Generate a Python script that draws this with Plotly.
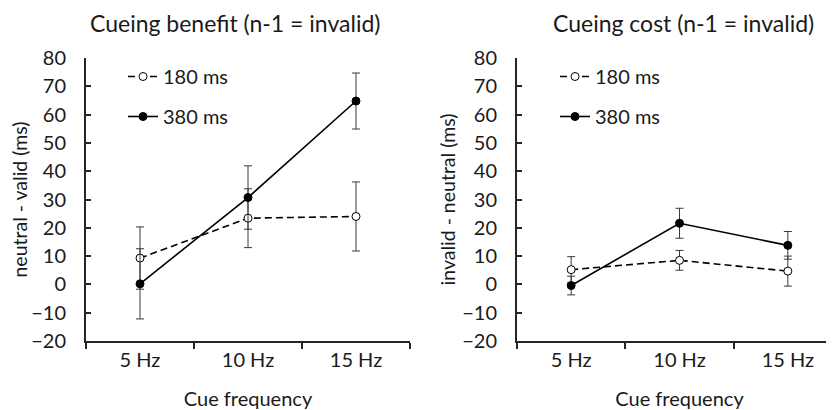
import plotly.graph_objects as go

categories = ["5 Hz", "10 Hz", "15 Hz"]
series_names = ["180 ms", "380 ms"]

# Left panel: Cueing benefit (neutral - valid)
benefit_180 = [9.3, 23.4, 24.0]
benefit_180_err = [11.0, 10.4, 12.2]
benefit_380 = [0.2, 30.7, 64.8]
benefit_380_err = [12.4, 11.2, 9.9]

# Right panel: Cueing cost (invalid - neutral)
cost_180 = [5.2, 8.5, 4.7]
cost_180_err = [4.6, 3.5, 5.3]
cost_380 = [-0.4, 21.6, 13.8]
cost_380_err = [3.3, 5.3, 4.9]

panel_titles = ["Cueing benefit (n-1 = invalid)", "Cueing cost (n-1 = invalid)"]
y_titles = ["neutral - valid (ms)", "invalid - neutral (ms)"]
x_title = "Cue frequency"
y_ticks = [-20, -10, 0, 10, 20, 30, 40, 50, 60, 70, 80]

FONT = "Lato"
INK = "#1a1a1a"
W, H = 834, 410
OFF = 8  # page body margin offset

def px_x(v):
    return (v - OFF) / W

def px_y(v):
    return (H - (v - OFF)) / H

fig = go.Figure()

def add_series(y, err, name, xa, ya, legend, dashed):
    fig.add_trace(go.Scatter(
        x=categories, y=y, name=name, mode="lines+markers",
        xaxis=xa, yaxis=ya, legend=legend, legendgroup=legend + name,
        line=dict(color="black", width=1.6, dash="7px,4px" if dashed else "solid"),
        marker=dict(symbol="circle", size=8,
                    color="white" if dashed else "black",
                    line=dict(color="black", width=1)),
        error_y=dict(type="data", array=err, visible=True,
                     color="#3a3a3a", thickness=1, width=4),
    ))

add_series(benefit_180, benefit_180_err, series_names[0], "x", "y", "legend", True)
add_series(benefit_380, benefit_380_err, series_names[1], "x", "y", "legend", False)
add_series(cost_180, cost_180_err, series_names[0], "x2", "y2", "legend2", True)
add_series(cost_380, cost_380_err, series_names[1], "x2", "y2", "legend2", False)

ydom = [px_y(341), px_y(58)]

def xaxis(domain, rng, anchor):
    return dict(domain=domain, range=rng, anchor=anchor, type="category",
                categoryorder="array", categoryarray=categories, automargin=False,
                showline=True, linecolor="#262626", linewidth=2,
                ticks="outside", ticklen=6, tickwidth=1.5, tickcolor="#262626",
                tickson="boundaries", showgrid=False, zeroline=False,
                tickfont=dict(family=FONT, size=20, color=INK),
                title=dict(text=x_title, font=dict(family=FONT, size=20, color=INK), standoff=22))

def yaxis(anchor, title):
    return dict(domain=ydom, range=[-20, 80], anchor=anchor, automargin=False,
                tickmode="array", tickvals=y_ticks,
                showline=True, linecolor="#262626", linewidth=2,
                ticks="inside", ticklen=5, tickwidth=1.5, tickcolor="#262626",
                showgrid=False, zeroline=False, ticklabelstandoff=14,
                tickfont=dict(family=FONT, size=20, color=INK),
                title=dict(text=title, font=dict(family=FONT, size=19.5, color=INK), standoff=1))

def legend(xpx):
    return dict(x=xpx / W, y=px_y(57), xanchor="left", yanchor="top",
                bgcolor="rgba(0,0,0,0)", tracegroupgap=11,
                font=dict(family=FONT, size=20, color=INK), itemwidth=30)

fig.update_layout(
    width=W, height=H, margin=dict(l=0, r=0, t=0, b=0),
    paper_bgcolor="white", plot_bgcolor="white",
    font=dict(family=FONT, color=INK),
    xaxis=xaxis([px_x(86), px_x(410)], [-0.5, 2.5], "y"),
    yaxis=yaxis("x", y_titles[0]),
    xaxis2=xaxis([px_x(517), 1.0], [-0.5, 2.5], "y2"),
    yaxis2=yaxis("x2", y_titles[1]),
    legend=legend(115),
    legend2=legend(547),
    annotations=[
        dict(text=panel_titles[0], x=px_x(235), y=px_y(23), xref="paper", yref="paper",
             showarrow=False, xanchor="center", yanchor="middle",
             font=dict(family=FONT, size=23, color=INK)),
        dict(text=panel_titles[1], x=px_x(683), y=px_y(23), xref="paper", yref="paper",
             showarrow=False, xanchor="center", yanchor="middle",
             font=dict(family=FONT, size=23, color=INK)),
    ],
)

fig.write_html("out.html")
